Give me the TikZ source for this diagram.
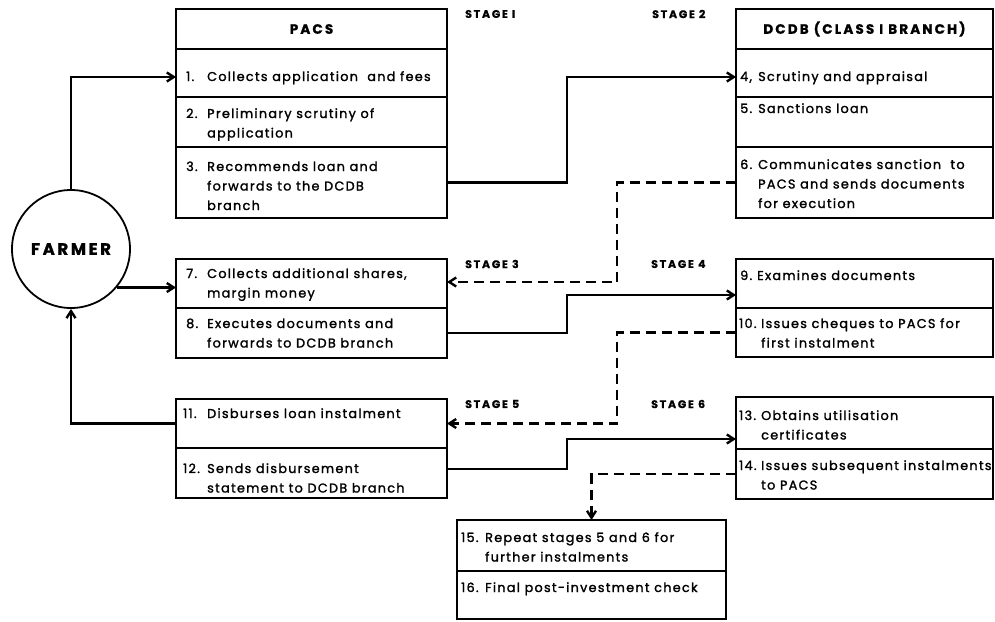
\documentclass[tikz,border=0pt]{standalone}
\usepackage{fontspec}
\setmainfont{Poppins}
\newfontfamily\bodyfam{Poppins}[LetterSpace=10,FakeBold=1.6]
\newfontfamily\boldfam{Poppins}[LetterSpace=16,FakeBold=1]
\usetikzlibrary{arrows.meta}
\newcommand{\bodyfont}{\bodyfam\fontsize{12.8}{19.5}\selectfont}
\newcommand{\hdrfont}{\boldfam\bfseries\fontsize{13.5}{15}\selectfont}
\newcommand{\stagefont}{\boldfam\bfseries\fontsize{11}{12}\selectfont}
\newcommand{\farmfont}{\boldfam\bfseries\fontsize{16.5}{18}\selectfont}
\newcommand{\entry}[3]{\parbox[t]{300pt}{\hangindent=#2pt\hangafter=1\noindent\makebox[#2pt][l]{#1}#3}}
\newcommand{\cellbox}[6]{\node[cell, minimum width={(#4-#2)*1pt}, minimum height={(#5-#3)*1pt}] (#1) at (#2,#3) {#6};}
\tikzset{
  cell/.style={draw, line width=1.5pt, anchor=north west, inner sep=0pt, outer sep=0pt, font=\hdrfont},
  txt/.style={anchor=base west, inner sep=0pt, font=\bodyfont},
  conn/.style={line width=2.4pt, line join=miter, -{Straight Barb[length=7pt,width=9pt]}},
  dconn/.style={conn, dash pattern=on 10pt off 6pt},
  stagelbl/.style={anchor=west, inner sep=0pt, font=\stagefont}
}
\begin{document}
\begin{tikzpicture}[x=1pt,y=-1pt]
\useasboundingbox (0,0) rectangle (995,621);
% PACS box
\cellbox{pacs}{176}{9}{447}{49}{PACS}
\cellbox{r1}{176}{49}{447}{97}{}
\cellbox{r2}{176}{97}{447}{147}{}
\cellbox{r3}{176}{147}{447}{218}{}
% DCDB box
\cellbox{dcdb}{736}{9}{993}{49}{DCDB (CLASS I BRANCH)}
\cellbox{r4}{736}{49}{993}{97}{}
\cellbox{r5}{736}{97}{993}{147}{}
\cellbox{r6}{736}{147}{993}{218}{}
% stage 3/4
\cellbox{r7}{176}{259}{447}{308}{}
\cellbox{r8}{176}{308}{447}{358}{}
\cellbox{r9}{736}{259}{993}{308}{}
\cellbox{r10}{736}{308}{993}{357}{}
% stage 5/6
\cellbox{r11}{176}{399}{447}{448}{}
\cellbox{r12}{176}{448}{447}{498}{}
\cellbox{r13}{736}{397}{993}{449}{}
\cellbox{r14}{736}{449}{993}{499}{}
% final
\cellbox{r15}{457}{520}{726}{571}{}
\cellbox{r16}{457}{571}{726}{619}{}

% texts
\node[txt] (t1) at (186,81) {\entry{1.}{21}{Collects application \ and fees}};
\node[txt] (t2) at (186,118) {\entry{2.}{21}{Preliminary scrutiny of\newline application}};
\node[txt] (t3) at (186,171) {\entry{3.}{21}{Recommends loan and\newline forwards to the DCDB\newline branch}};
\node[txt] (t4) at (740,81) {\entry{4,}{18}{Scrutiny and appraisal}};
\node[txt] (t5) at (740,113) {\entry{5.}{18}{Sanctions loan}};
\node[txt] (t6) at (740,169) {\entry{6.}{18}{Communicates sanction \ to\newline PACS and sends documents\newline for execution}};
\node[txt] (t7) at (186,278) {\entry{7.}{21}{Collects additional shares,\newline margin money}};
\node[txt] (t8) at (186,328) {\entry{8.}{21}{Executes documents and\newline forwards to DCDB branch}};
\node[txt] (t9) at (740,280) {\entry{9.}{17}{Examines documents}};
\node[txt] (t10) at (739,328) {\entry{10.}{22}{Issues cheques to PACS for\newline first instalment}};
\node[txt] (t11) at (183,418) {\entry{11.}{24}{Disburses loan instalment}};
\node[txt] (t12) at (183,473) {\entry{12.}{24}{Sends disbursement\newline statement to DCDB branch}};
\node[txt] (t13) at (739,420) {\entry{13.}{22}{Obtains utilisation\newline certificates}};
\node[txt] (t14) at (739,470) {\entry{14.}{22}{Issues subsequent instalments\newline to PACS}};
\node[txt] (t15) at (461,542) {\entry{15.}{24}{Repeat stages 5 and 6 for\newline further instalments}};
\node[txt] (t16) at (461,592) {\entry{16.}{24}{Final post-investment check}};

% stage labels
\node[stagelbl] (s1) at (465,14) {STAGE I};
\node[stagelbl] (s2) at (652,14) {STAGE 2};
\node[stagelbl] (s3) at (465,264) {STAGE 3};
\node[stagelbl] (s4) at (651,264) {STAGE 4};
\node[stagelbl] (s5) at (465,404) {STAGE 5};
\node[stagelbl] (s6) at (651,404) {STAGE 6};

% farmer
\node[circle, draw, line width=1.8pt, minimum size=118pt, inner sep=0pt, font=\farmfont] (farmer) at (71,249) {FARMER};

% connectors
\draw[conn] (farmer.north) |- ([yshift=-4pt]r1.west);
\draw[conn] (farmer.-40) -- (farmer.-40 -| r7.west);
\draw[conn] (r11.west) -| (farmer.south);
\draw[conn] (r3.east) -- ++(120,0) |- ([yshift=-4pt]r4.west);
\draw[dconn] (r6.west) -- ++(-119,0) |- ([yshift=1.5pt]r7.east);
\draw[conn] (r8.east) -- ++(120,0) |- ([yshift=-11.5pt]r9.west);
\draw[dconn] (r10.west) -- ++(-119,0) |- (r11.east);
\draw[conn] ([yshift=4pt]r12.east) -- ++(120,0) |- ([yshift=-16pt]r13.west);
\draw[dconn] (r14.west) -| (r15.north);
\end{tikzpicture}
\end{document}
